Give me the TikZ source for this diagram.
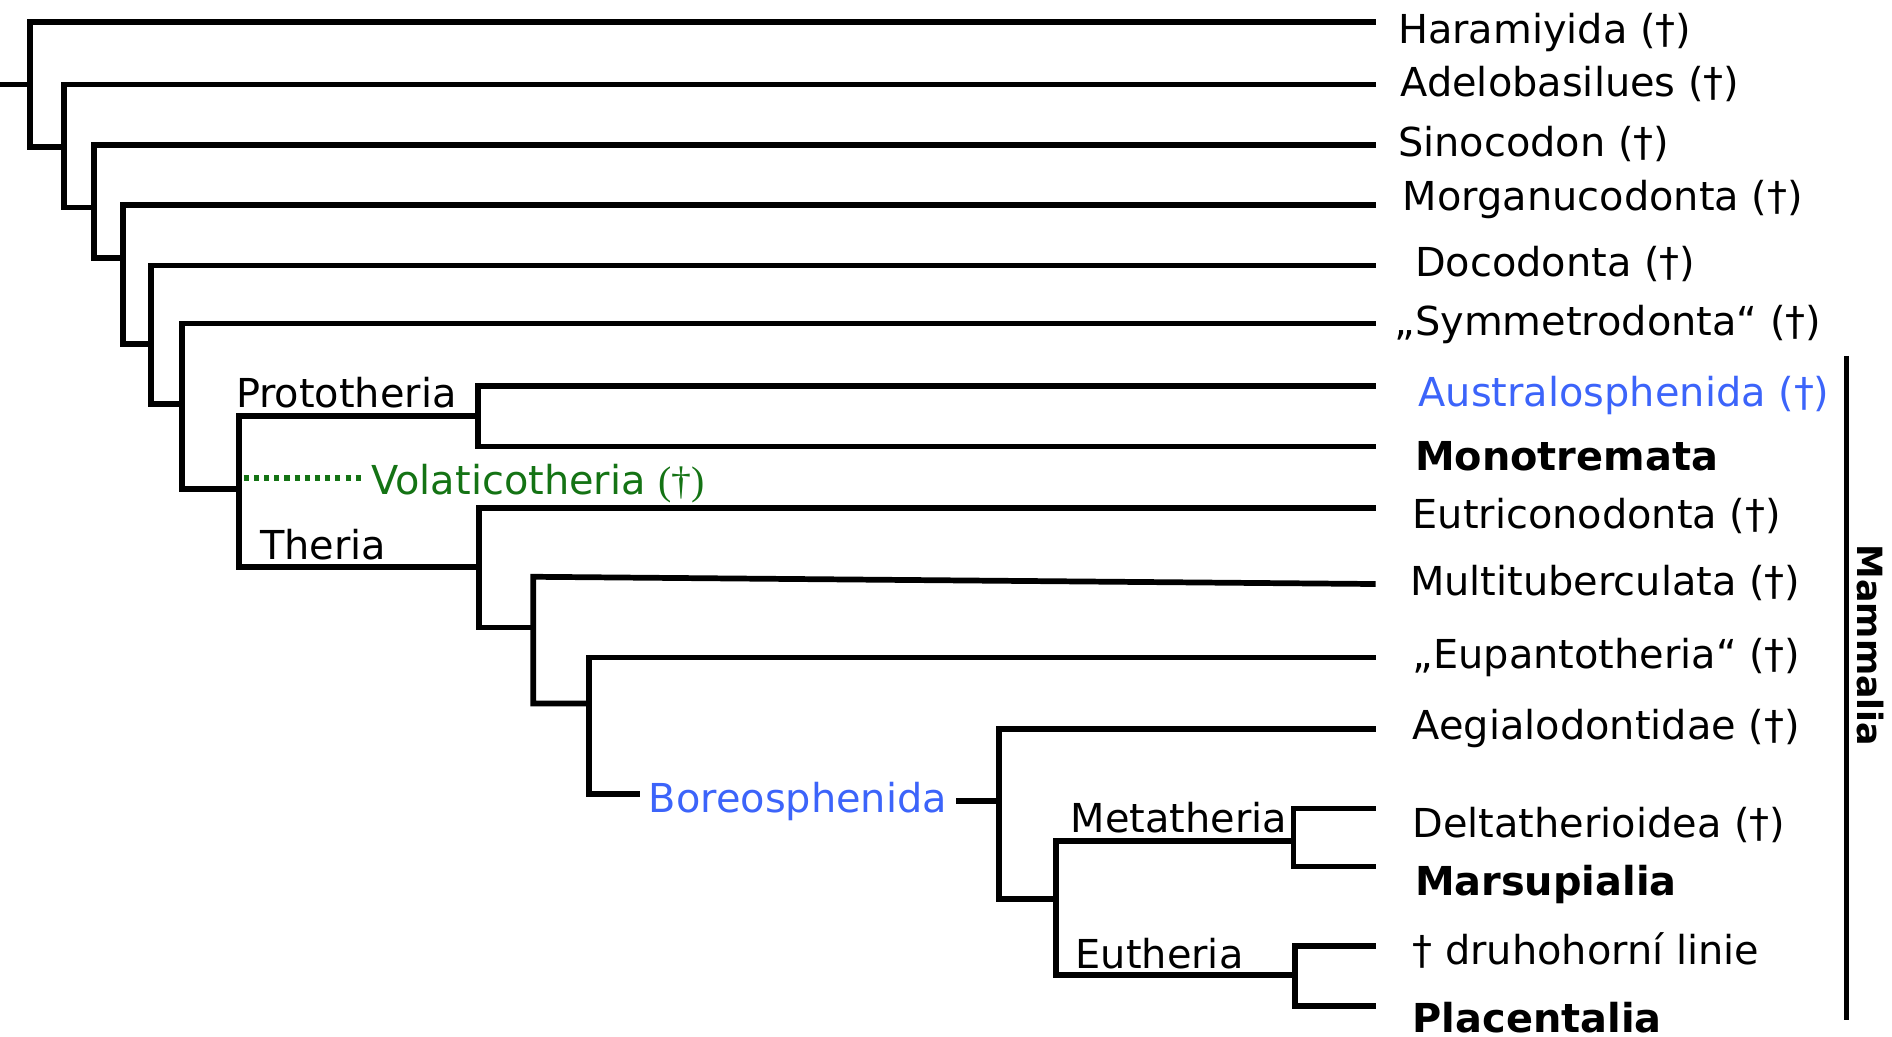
\documentclass[tikz,border=0pt]{standalone}
\usepackage{fontspec}
\setmainfont{DejaVu Sans}
\newfontfamily\daggerfont{Liberation Serif}
\usepackage{tikz}
\definecolor{cladeblue}{RGB}{60,100,250}
\definecolor{cladegreen}{RGB}{20,115,20}
\tikzset{branch/.style={draw,line width=1.35pt,line join=miter}}
\tikzset{taxon/.style={anchor=west,inner sep=0pt,yshift=-0.3mm,
                       font=\fontsize{9.4}{11}\selectfont}}
\tikzset{taxonbold/.style={taxon,font=\fontsize{9.4}{11}\selectfont\bfseries}}
\tikzset{taxonblue/.style={taxon,text=cladeblue}}
\tikzset{clade/.style={inner sep=0pt,font=\fontsize{9.4}{11}\selectfont}}

\begin{document}
\begin{tikzpicture}[x=0.1mm,y=-0.1mm]
    \useasboundingbox (0,0) rectangle (1568,859);
    % Leaves: line end, label
    \foreach \ly/\ty/\tx/\t/\s [count=\i] in {
        18/24/1158/{Haramiyida (†)}/taxon,
        70/67/1160/{Adelobasilues (†)}/taxon,
        120/116/1158/{Sinocodon (†)}/taxon,
        170/162/1162/{Morganucodonta (†)}/taxon,
        220/216/1172/{Docodonta (†)}/taxon,
        268/266/1155/{„Symmetrodonta“ (†)}/taxon,
        320/325/1175/{Australosphenida (†)}/taxonblue,
        370/375/1172/{Monotremata}/taxonbold,
        421/425/1170/{Eutriconodonta (†)}/taxon,
        484/480/1168/{Multituberculata (†)}/taxon,
        545/542/1170/{„Eupantotheria“ (†)}/taxon,
        604/601/1170/{Aegialodontidae (†)}/taxon,
        670/681/1170/{Deltatherioidea (†)}/taxon,
        718/730/1172/{Marsupialia}/taxonbold,
        784/785/1170/{† druhohorní linie}/taxon,
        834/840/1170/{Placentalia}/taxonbold}{%
        \coordinate (e\i) at (1140,\ly);
        \node[\s] (t\i) at (\tx,\ty) {\t};
      }
    % Branch points
    \coordinate (root) at (0,70);
    \coordinate (n1) at (25,122);
    \coordinate (n2) at (53,172);
    \coordinate (n3) at (78,214);
    \coordinate (n4) at (102,285);
    \coordinate (n5) at (125,335);
    \coordinate (n6) at (151,405);
    \coordinate (proto) at (198,345);
    \coordinate (mam) at (198,470);
    \coordinate (mono) at (396,370);
    \coordinate (ther) at (397,520);
    \coordinate (multitop) at (442,478);
    \coordinate (multi) at (442,583);
    \coordinate (eupan) at (488,658);
    \coordinate (boreo) at (828,745);
    \coordinate (metaj) at (875,697);
    \coordinate (eu) at (875,808);
    \coordinate (meta) at (1072,718);
    \coordinate (euth) at (1073,834);
    % Stem
    \draw[branch] (root) -- (root -| n1);
    \foreach \a/\b [count=\i] in {n1/n2,n2/n3,n3/n4,n4/n5,n5/n6,n6/mam}{%
        \draw[branch] (e\i) -| (\a) -- (\a -| \b);
      }
    % Prototheria and Theria
    \draw[branch] (proto -| mono) -- (proto) -- (mam) -- (mam -| ther);
    \draw[branch] (e7) -| (mono) -- (e8);
    \draw[branch] (e9) -| (ther) -- (ther -| multi);
    \draw[branch] (e10) -- (multitop) -- (multi) -- (multi -| eupan);
    % Boreosphenida
    \node[clade,anchor=west,text=cladeblue,inner xsep=0.7mm] (boreolab) at (530,664) {Boreosphenida};
    \draw[branch] (e11) -| (eupan) -- (eupan -| boreolab.west);
    \draw[branch] (boreolab.east) -- (boreolab.east -| boreo);
    \draw[branch] (e12) -| (boreo) -- (boreo -| eu);
    \draw[branch] (metaj -| meta) -- (metaj) -- (eu) -- (eu -| euth);
    \draw[branch] (e13) -| (meta) -- (e14);
    \draw[branch] (e15) -| (euth) -- (e16);
    % Volaticotheria
    \coordinate (vola) at (202,396);
    \node[clade,anchor=west,text=cladegreen,inner xsep=0.7mm] (volalab) at (300,401)
        {Volaticotheria {\daggerfont(†)}};
    \draw[cladegreen,line width=1.4pt,dash pattern=on 1.2pt off 1.2pt] (vola) -- (vola -| volalab.west);
    % Clade labels
    \node[clade] (protolab) at (287,325) {Prototheria};
    \node[clade] (therlab) at (268,451) {Theria};
    \node[clade] (metalab) at (977,678) {Metatheria};
    \node[clade] (euthlab) at (961,790) {Eutheria};
    % Mammalia
    \coordinate (mtop) at (1530,295);
    \coordinate (mbot) at (1530,845);
    \draw[branch,line width=1.2pt] (mtop) -- (mbot);
    \node[clade,font=\fontsize{8.2}{10}\selectfont\bfseries,rotate=-90] (mamlab) at (1550,535) {Mammalia};
\end{tikzpicture}
\end{document}
